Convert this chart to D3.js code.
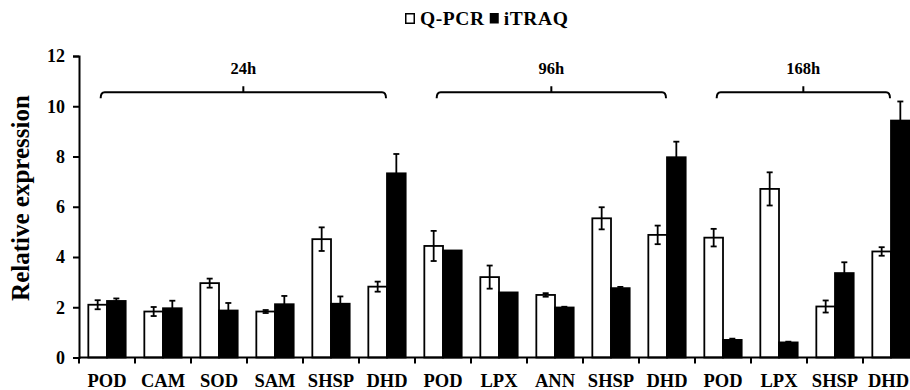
<!DOCTYPE html>
<html lang="en">
<head>
    <meta charset="UTF-8">
    <title>Relative expression: Q-PCR vs iTRAQ</title>
    <script src="https://d3js.org/d3.v7.min.js"></script>
    <style>
        body { margin: 0; background: #fff; }
        svg { display: block; overflow: hidden; }
        text { font-family: "Times New Roman", "Liberation Serif", serif; font-weight: bold; fill: #000; }
    </style>
</head>
<body>
    <script>
        // data
        const categories = ["POD", "CAM", "SOD", "SAM", "SHSP", "DHD", "POD", "LPX", "ANN", "SHSP", "DHD", "POD", "LPX", "SHSP", "DHD"];
        const qpcr      = [2.10, 1.83, 2.96, 1.83, 4.71, 2.82, 4.44, 3.20, 2.49, 5.54, 4.88, 4.77, 6.71, 2.03, 4.22];
        const qpcrErr   = [0.18, 0.18, 0.18, 0.06, 0.47, 0.20, 0.60, 0.46, 0.07, 0.44, 0.37, 0.35, 0.66, 0.24, 0.17];
        const itraq     = [2.25, 1.96, 1.87, 2.12, 2.14, 7.33, 4.26, 2.59, 1.99, 2.76, 7.97, 0.70, 0.60, 3.36, 9.43];
        const itraqErr  = [0.10, 0.30, 0.30, 0.33, 0.29, 0.77, 0.00, 0.00, 0.03, 0.05, 0.62, 0.05, 0.03, 0.43, 0.76];
        const groupLabels = ["24h", "96h", "168h"];
        const groupStart  = [0, 6, 11];
        const groupEnd    = [5, 10, 14];
        const yTicks = [0, 2, 4, 6, 8, 10, 12];

        const width = 910, height = 390;
        const mLeft = 79, mRight = 919, mTop = 56, mBottom = 357.5;

        const svg = d3.select("body").append("svg")
            .attr("width", width)
            .attr("height", height);

        const x = d3.scaleBand()
            .domain(d3.range(categories.length))
            .range([mLeft, mRight]);

        const sub = d3.scaleBand()
            .domain(["q", "i"])
            .range([0, x.bandwidth()])
            .paddingOuter(0.5);

        const y = d3.scaleLinear()
            .domain([0, 12])
            .range([mBottom, mTop]);

        // bars
        const rows = d3.range(categories.length).map(i => [
            {i: i, key: "q", v: qpcr[i], e: qpcrErr[i]},
            {i: i, key: "i", v: itraq[i], e: itraqErr[i]}
        ]).flat();

        svg.append("g").selectAll("rect")
            .data(rows)
            .join("rect")
            .attr("x", d => x(d.i) + sub(d.key))
            .attr("y", d => y(d.v))
            .attr("width", sub.bandwidth())
            .attr("height", d => y(0) - y(d.v))
            .attr("fill", d => d.key === "q" ? "#fff" : "#000")
            .attr("stroke", "#000")
            .attr("stroke-width", 1.8);

        // error bars
        const err = svg.append("g")
            .attr("stroke", "#000")
            .attr("stroke-width", 1.8)
            .selectAll("g")
            .data(rows.filter(d => d.e > 0))
            .join("g")
            .attr("transform", d => `translate(${x(d.i) + sub(d.key) + sub.bandwidth() / 2},0)`);
        err.append("line")
            .attr("y1", d => y(d.v - d.e))
            .attr("y2", d => y(d.v + d.e));
        err.append("line")
            .attr("x1", -3).attr("x2", 3)
            .attr("y1", d => y(d.v + d.e)).attr("y2", d => y(d.v + d.e));
        err.append("line")
            .attr("x1", -3).attr("x2", 3)
            .attr("y1", d => y(d.v - d.e)).attr("y2", d => y(d.v - d.e));

        // y axis
        const yAxis = svg.append("g")
            .attr("transform", `translate(${mLeft},0)`)
            .call(d3.axisLeft(y).tickValues(yTicks).tickSize(6).tickPadding(8).tickFormat(d3.format("d")));
        yAxis.selectAll("path, line").attr("stroke", "#000").attr("stroke-width", 2);
        yAxis.selectAll("text").style("font-size", "18px").attr("font-family", null);

        // x axis: ticks at category boundaries, labels at centres
        const xLine = svg.append("g");
        xLine.append("line")
            .attr("x1", mLeft).attr("x2", mRight)
            .attr("y1", mBottom).attr("y2", mBottom)
            .attr("stroke", "#000").attr("stroke-width", 2);
        xLine.selectAll(".tk")
            .data(d3.range(categories.length + 1))
            .join("line")
            .attr("class", "tk")
            .attr("x1", i => i < categories.length ? x(i) : mRight)
            .attr("x2", i => i < categories.length ? x(i) : mRight)
            .attr("y1", mBottom).attr("y2", mBottom + 6)
            .attr("stroke", "#000").attr("stroke-width", 2);

        const xAxis = svg.append("g")
            .attr("transform", `translate(0,${mBottom})`)
            .call(d3.axisBottom(x).tickSize(0).tickPadding(16).tickFormat(i => categories[i]));
        xAxis.select(".domain").remove();
        xAxis.selectAll("text").style("font-size", "18.5px").attr("font-family", null);
        // keep the last label inside the picture
        xAxis.selectAll("text").filter(i => i === categories.length - 1)
            .attr("text-anchor", "end")
            .attr("x", width - 1 - (x(categories.length - 1) + x.bandwidth() / 2));

        // y axis title
        svg.append("text")
            .attr("transform", `translate(28.5,198) rotate(-90)`)
            .attr("text-anchor", "middle")
            .style("font-size", "25px")
            .text("Relative expression");

        // group brackets
        const by = y(10.56);
        groupLabels.forEach((g, k) => {
            const x0 = x(groupStart[k]) + sub("q") + sub.bandwidth() / 2 + 3;
            const x1 = x(groupEnd[k]) + x.bandwidth() / 2 - 1;
            const xm = (x0 + x1) / 2;
            svg.append("path")
                .attr("d", `M${x0},${by + 6} Q${x0},${by} ${x0 + 4},${by} L${x1 - 4},${by} Q${x1},${by} ${x1},${by + 6} M${xm},${by} L${xm},${by - 6}`)
                .attr("fill", "none")
                .attr("stroke", "#000")
                .attr("stroke-width", 2);
            svg.append("text")
                .attr("x", xm)
                .attr("y", 74)
                .attr("text-anchor", "middle")
                .style("font-size", "16.5px")
                .text(g);
        });

        // legend
        const legend = svg.append("g").attr("transform", "translate(405,0)");
        legend.append("rect")
            .attr("x", 0.75).attr("y", 13.75).attr("width", 8.5).attr("height", 9.5)
            .attr("fill", "#fff").attr("stroke", "#000").attr("stroke-width", 1.5);
        const t1 = legend.append("text")
            .attr("x", 15).attr("y", 25)
            .style("font-size", "19.5px")
            .style("letter-spacing", "0.6px")
            .text("Q-PCR");
        const w1 = t1.node().getComputedTextLength();
        legend.append("rect")
            .attr("x", 15 + w1 + 5).attr("y", 13).attr("width", 9).attr("height", 10.5)
            .attr("fill", "#000");
        legend.append("text")
            .attr("x", 15 + w1 + 19).attr("y", 25)
            .style("font-size", "19.5px")
            .style("letter-spacing", "0.6px")
            .text("iTRAQ");
    </script>
</body>
</html>
